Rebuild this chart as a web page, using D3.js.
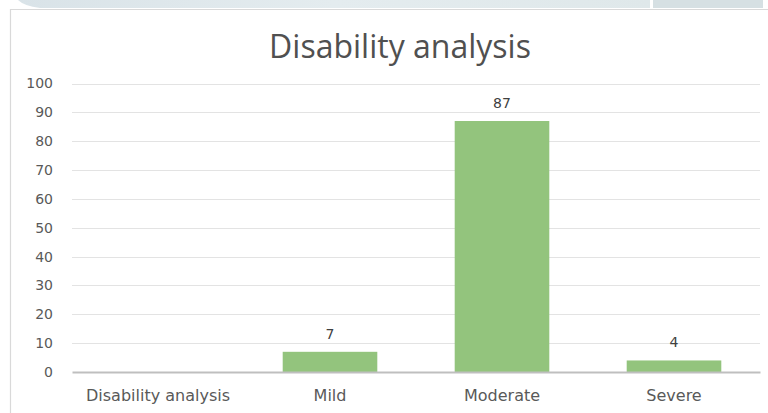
<!DOCTYPE html>
<html>
<head>
<meta charset="utf-8">
<script src="https://cdn.jsdelivr.net/npm/d3@7"></script>
<style>
  body { margin: 0; background: #fff; }
  svg { display: block; font-family: "Open Sans", "Noto Sans", sans-serif; }
</style>
</head>
<body>
<div id="chart"></div>
<script>
// data
var categories = ["Disability analysis", "Mild", "Moderate", "Severe"];
var values = [null, 7, 87, 4];
var yTicks = [0, 10, 20, 30, 40, 50, 60, 70, 80, 90, 100];
var chartTitle = "Disability analysis";

var W = 768, H = 413;
var plot = { left: 72, right: 760, top: 83.5, bottom: 372 };
var labelFont = "'DejaVu Sans', sans-serif";

var svg = d3.select("#chart").append("svg")
    .attr("width", W)
    .attr("height", H);

// decorative band at the top (page background behind the chart)
var grad = svg.append("defs").append("linearGradient")
    .attr("id", "band")
    .attr("x1", "0").attr("x2", "1");
grad.append("stop").attr("offset", "0").attr("stop-color", "#d9e3e8");
grad.append("stop").attr("offset", "0.5").attr("stop-color", "#e4ecef");
grad.append("stop").attr("offset", "1").attr("stop-color", "#dfe8ea");

svg.append("path")
    .attr("d", "M18,0 L650,0 L650,8 L40,8 Q24,6 18,0 Z")
    .attr("fill", "url(#band)");
svg.append("rect")
    .attr("x", 653).attr("y", 0)
    .attr("width", 110).attr("height", 8)
    .attr("fill", "#d6e0e3");

// chart frame
svg.append("path")
    .attr("d", "M10.5," + H + " L10.5,9.5 L" + W + ",9.5")
    .attr("fill", "none")
    .attr("stroke", "#d9d9d9")
    .attr("stroke-width", 1.2);

//// SCALES ////////////////////////////////////////////////////////////////////

var x = d3.scaleBand()
    .domain(categories)
    .range([plot.left, plot.right])
    .paddingInner(0.45)
    .paddingOuter(0.225);

var y = d3.scaleLinear()
    .domain([0, 100])
    .range([plot.bottom, plot.top]);

// gridlines
svg.append("g")
    .selectAll("line")
    .data(yTicks.filter(function(d) { return d > 0; }))
    .join("line")
    .attr("x1", plot.left)
    .attr("x2", plot.right)
    .attr("y1", function(d) { return Math.round(y(d)) + 0.5; })
    .attr("y2", function(d) { return Math.round(y(d)) + 0.5; })
    .attr("stroke", "#e3e3e3")
    .attr("stroke-width", 1);

// y axis labels
var yAxis = svg.append("g")
    .attr("transform", "translate(" + 53 + ",0)")
    .call(d3.axisLeft(y).tickValues(yTicks).tickSize(0).tickPadding(0));
yAxis.select(".domain").remove();
yAxis.selectAll("text")
    .attr("fill", "#595959")
    .style("font-family", labelFont)
    .style("font-size", "14px");

var barData = categories.map(function(c, i) { return { cat: c, v: values[i] }; })
    .filter(function(d) { return d.v != null; });

// bars
svg.append("g")
    .selectAll("rect")
    .data(barData)
    .join("rect")
    .attr("x", function(d) { return x(d.cat); })
    .attr("y", function(d) { return y(d.v); })
    .attr("width", x.bandwidth())
    .attr("height", function(d) { return y(0) - y(d.v); })
    .attr("fill", "#93c47d");

// value labels
svg.append("g")
    .selectAll("text")
    .data(barData)
    .join("text")
    .attr("x", function(d) { return x(d.cat) + x.bandwidth() / 2; })
    .attr("y", function(d) { return y(d.v) - 13; })
    .attr("text-anchor", "middle")
    .attr("fill", "#404040")
    .style("font-family", labelFont)
    .style("font-size", "14px")
    .text(function(d) { return d.v; });

// baseline and category labels
var xAxis = svg.append("g")
    .attr("transform", "translate(0," + plot.bottom + ")")
    .call(d3.axisBottom(x).tickSize(0).tickPadding(17.5));
xAxis.select(".domain")
    .attr("stroke", "#bfbfbf")
    .attr("stroke-width", 2);
xAxis.selectAll("text")
    .attr("fill", "#595959")
    .style("font-family", labelFont)
    .style("font-size", "16px");

// title
svg.append("text")
    .attr("x", 400)
    .attr("y", 58)
    .attr("text-anchor", "middle")
    .attr("fill", "#505050")
    .style("font-size", "32px")
    .text(chartTitle);
</script>
</body>
</html>
